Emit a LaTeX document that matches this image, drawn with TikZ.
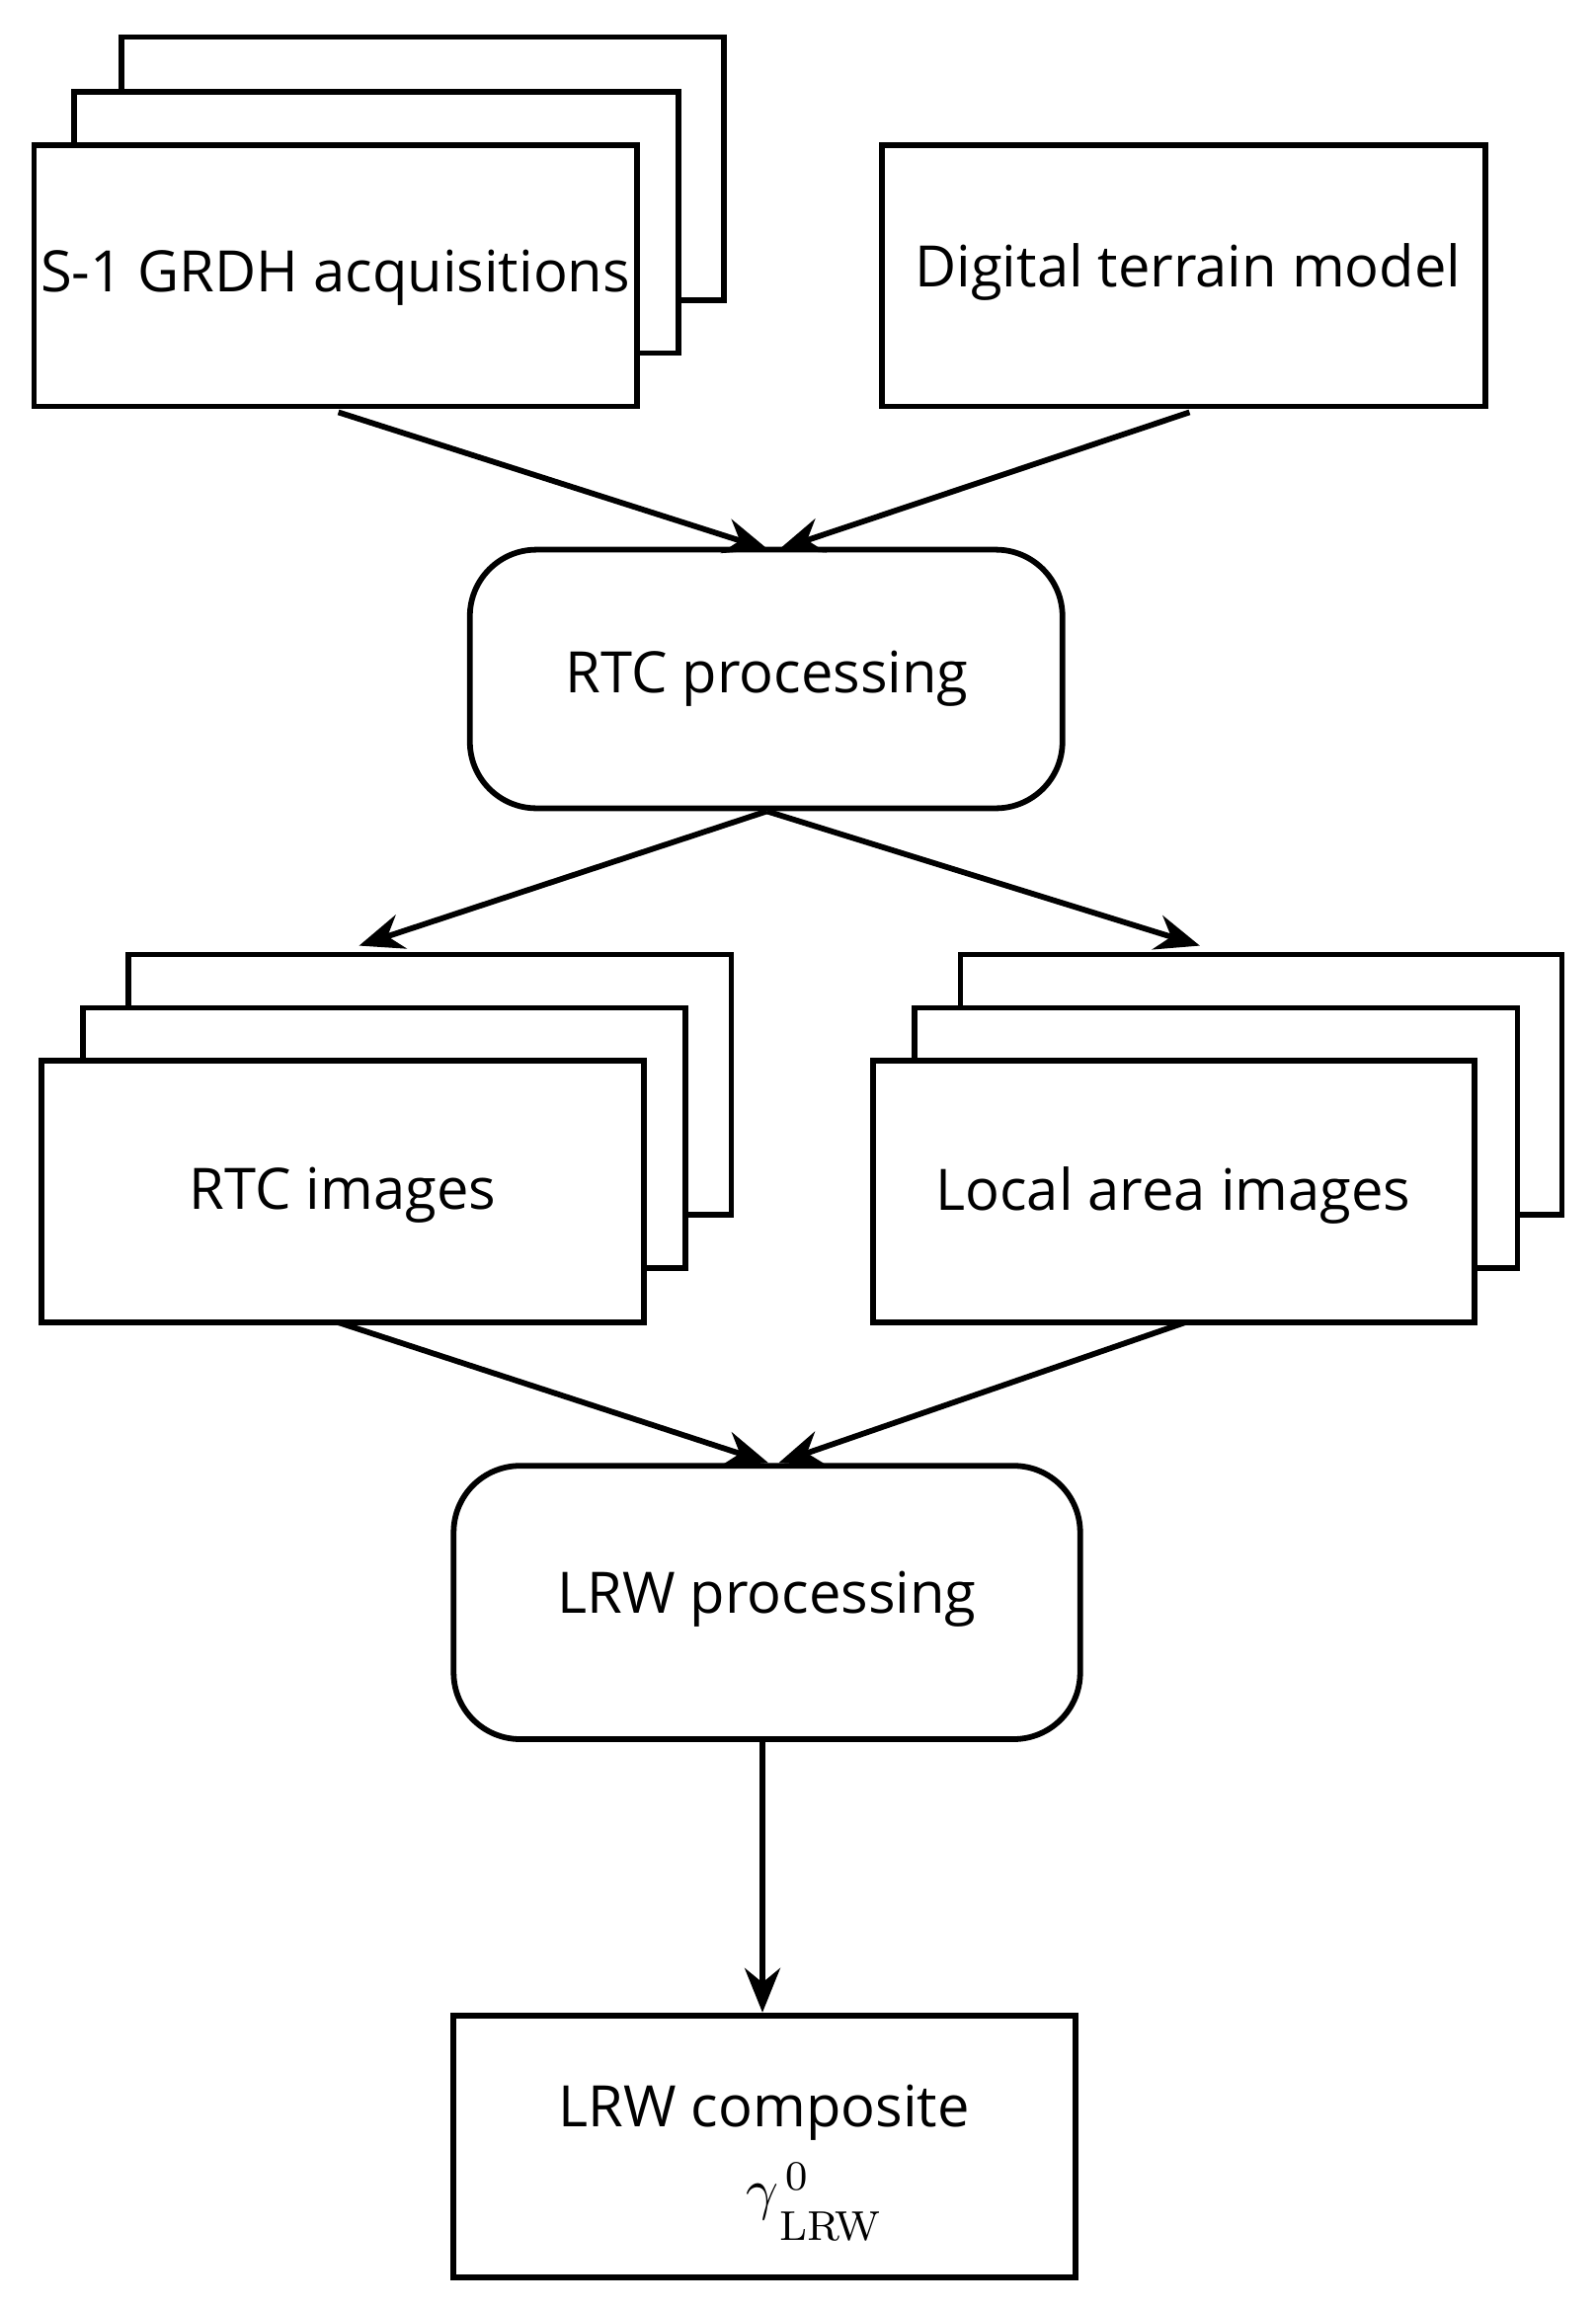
\documentclass[tikz,border=0pt]{standalone}
\usepackage{fontspec}
\setmainfont{Open Sans}
\newfontfamily\lmr{Latin Modern Roman}
\usetikzlibrary{arrows.meta}
\begin{document}
\begin{tikzpicture}[x=0.1mm,y=-0.1mm,
  box/.style={draw,line width=1.1pt,fill=white},
  rbox/.style={draw,line width=1.1pt,fill=white,rounded corners=4.5mm},
  lab/.style={font=\fontsize{11}{13}\selectfont},
  arr/.style={line width=1.1pt,-{Stealth[length=3mm,width=2.4mm]}}]
\useasboundingbox (0,0) rectangle (1080,1562);
% S-1 stack
\draw[box] (82,25) rectangle (490,203);
\draw[box] (50,62) rectangle (459,239);
\draw[box] (23,98) rectangle (431,275);
\node[lab] (s1) at (227,188) {S-1 GRDH acquisitions};
\coordinate (s1b) at (229,279);
% DTM
\draw[box] (597,98) rectangle (1005,275);
\node[lab] (dtm) at (804,184) {Digital terrain model};
\coordinate (dtmb) at (805,279);
% RTC processing
\draw[rbox] (318,372) rectangle (719,547);
\node[lab] (rtcp) at (519,459) {RTC processing};
\coordinate (rtcpt1) at (520,372);
\coordinate (rtcpt2) at (527,372);
\coordinate (rtcpb) at (519,549);
% RTC images
\draw[box] (87,646) rectangle (495,822);
\draw[box] (56,682) rectangle (464,858);
\draw[box] (28,718) rectangle (436,895);
\node[lab] (rtci) at (232,809) {RTC images};
\coordinate (rtcit) at (243,640);
\coordinate (rtcib) at (229,895);
% Local area images
\draw[box] (650,646) rectangle (1057,822);
\draw[box] (619,682) rectangle (1027,858);
\draw[box] (591,718) rectangle (998,895);
\node[lab] (lai) at (794,809) {Local area images};
\coordinate (lait) at (812,640);
\coordinate (laib) at (802,895);
% LRW processing
\draw[rbox] (307,992) rectangle (731,1177);
\node[lab] (lrwp) at (519,1082) {LRW processing};
\coordinate (lrwt1) at (520,990);
\coordinate (lrwt2) at (527,990);
\coordinate (lrwb) at (516,1177);
% LRW composite
\draw[box] (307,1364) rectangle (728,1541);
\node[lab] (lrwc) at (517,1430) {LRW composite};
\node[inner sep=0pt,font=\fontsize{11}{13}\selectfont] (gam) at (516,1490) {$\gamma$};
\node[inner sep=0pt,font=\lmr\fontsize{8}{9}\selectfont] (sup) at (539,1473) {0};
\node[inner sep=0pt,font=\lmr\fontsize{8}{9}\selectfont] (sub) at (562,1507) {LRW};
\coordinate (lrwct) at (516,1362);
% arrows
\draw[arr] (s1b) -- (rtcpt1);
\draw[arr] (dtmb) -- (rtcpt2);
\draw[arr] (rtcpb) -- (rtcit);
\draw[arr] (rtcpb) -- (lait);
\draw[arr] (rtcib) -- (lrwt1);
\draw[arr] (laib) -- (lrwt2);
\draw[arr] (lrwb) -- (lrwct);
\end{tikzpicture}
\end{document}
